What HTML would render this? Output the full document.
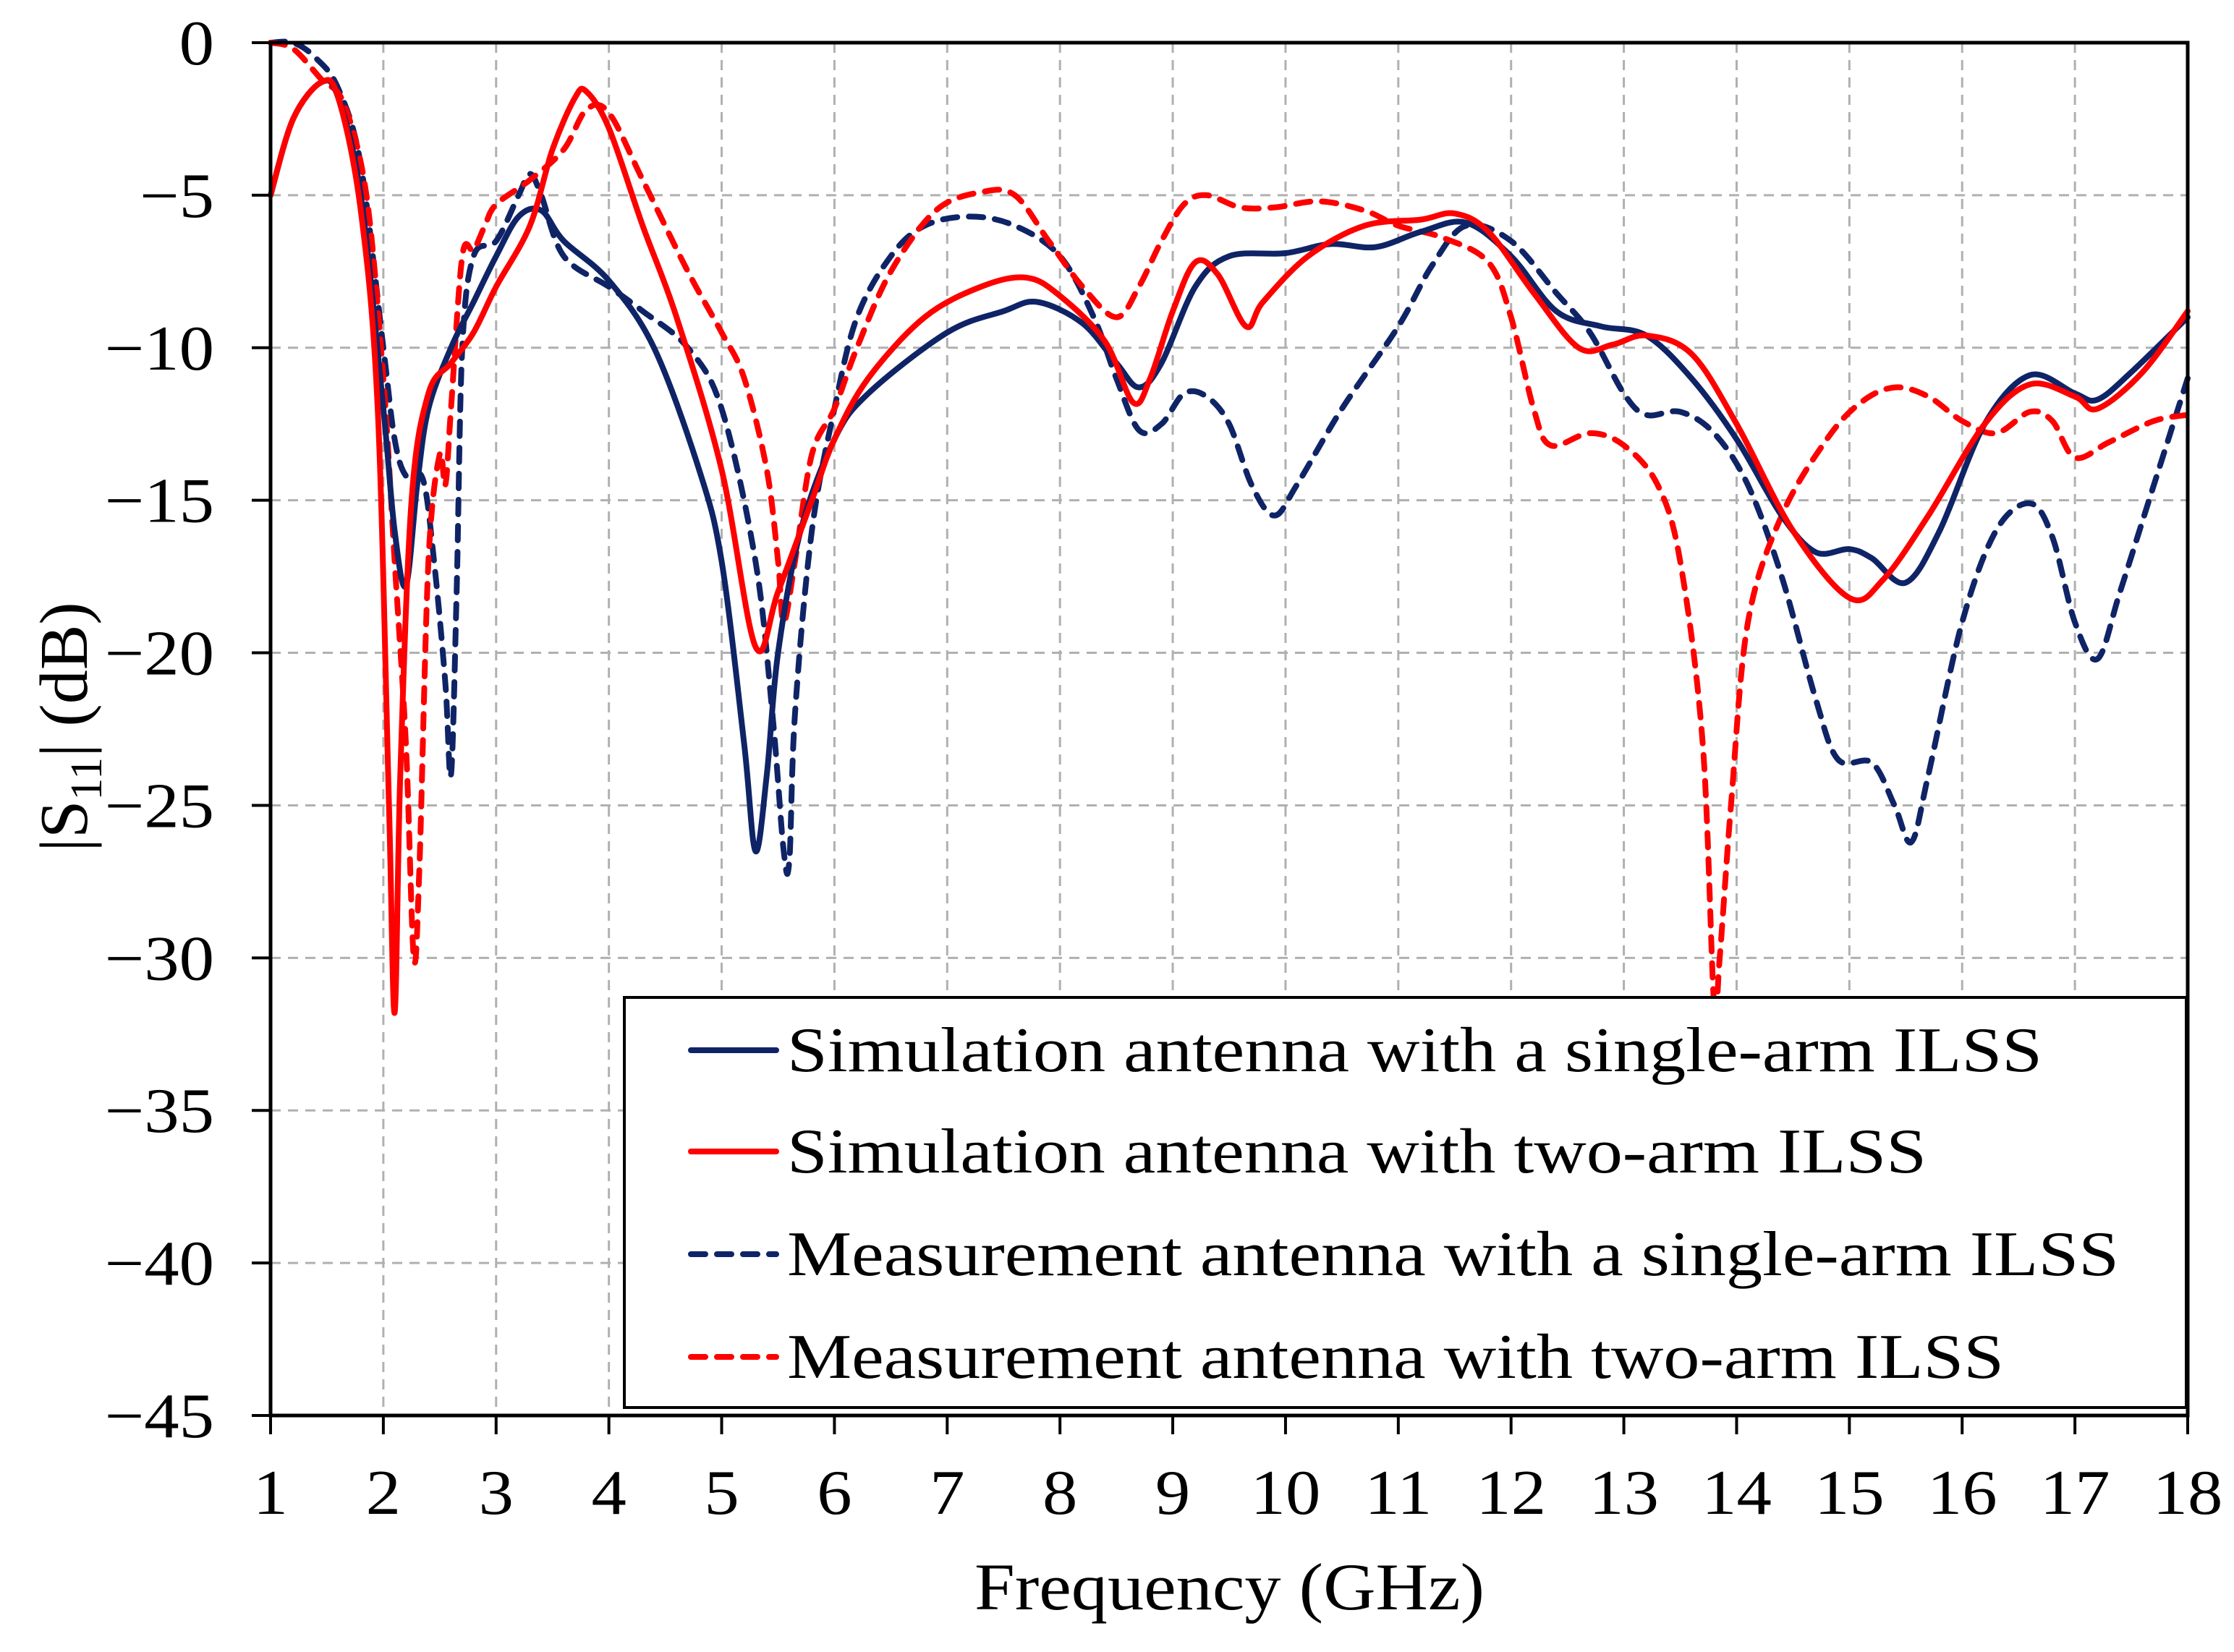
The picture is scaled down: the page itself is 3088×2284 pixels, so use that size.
<!DOCTYPE html>
<html><head><meta charset="utf-8"><style>
html,body{margin:0;padding:0;background:#fff;}
svg{display:block;font-family:"Liberation Serif",serif;}
</style></head><body>
<svg id="chart" width="3088" height="2284" viewBox="0 0 3088 2284" xmlns="http://www.w3.org/2000/svg">
<g id="grid"></g>
<g id="series"></g>
<g id="axes"></g>
<g id="legend"></g>
</svg>
<script>
const xTicks = [1,2,3,4,5,6,7,8,9,10,11,12,13,14,15,16,17,18];
const yTicks = [0,-5,-10,-15,-20,-25,-30,-35,-40,-45];
const seriesNames = ["Simulation antenna with a single-arm ILSS","Simulation antenna with two-arm ILSS","Measurement antenna with a single-arm ILSS","Measurement antenna with two-arm ILSS"];
const simSingleF = [1,1.2,1.45,1.6,1.8,2.0,2.1,2.2,2.3,2.4,2.6,2.8,3.0,3.2,3.4,3.6,4.0,4.4,4.8,5.0,5.2,5.3,5.4,5.5,5.7,6.0,6.3,7.0,7.5,7.8,8.2,8.5,8.7,8.9,9.2,9.5,10,10.4,10.8,11.2,11.6,12,12.4,12.8,13.2,13.6,14,14.4,14.7,15.0,15.2,15.5,15.8,16.2,16.6,17.0,17.2,17.5,18];
const simSingleV = [-5,-2.5,-1.3,-1.8,-5,-12,-16,-17.8,-14.5,-12,-10,-8.5,-7,-5.7,-5.5,-6.5,-7.8,-10,-14,-17,-23,-26.5,-24,-20,-16,-13,-11.5,-9.5,-8.8,-8.5,-9.2,-10.5,-11.3,-10.5,-8,-7,-6.9,-6.6,-6.7,-6.2,-5.9,-7,-8.8,-9.3,-9.6,-11,-13,-15.5,-16.7,-16.6,-16.9,-17.7,-16,-12.5,-10.9,-11.5,-11.7,-10.8,-9];
const simTwoF = [1,1.2,1.45,1.6,1.8,1.95,2.05,2.1,2.15,2.25,2.4,2.6,2.8,3.0,3.3,3.5,3.7,3.8,4.0,4.3,4.6,5.0,5.3,5.5,5.8,6.0,6.3,6.8,7.3,7.7,8.0,8.4,8.65,8.8,9.0,9.2,9.4,9.65,9.8,10.2,10.7,11.2,11.5,11.8,12.2,12.6,12.9,13.2,13.6,14,14.5,15,15.3,15.7,16.2,16.6,17,17.2,17.6,18];
const simTwoV = [-5,-2.5,-1.3,-1.8,-5.5,-12,-25,-31.8,-24,-15,-11.5,-10.5,-9.5,-8,-6,-3.5,-1.8,-1.6,-2.8,-6,-9,-14,-19.8,-18,-15,-13,-11,-9,-8,-7.7,-8.3,-9.8,-11.8,-11,-8.8,-7.2,-7.6,-9.3,-8.5,-7,-6,-5.8,-5.6,-6.2,-8.2,-10,-9.9,-9.6,-10.2,-12.5,-16,-18.2,-17.6,-15.5,-12.5,-11.2,-11.6,-12,-10.8,-8.8];
const measSingleF = [1,1.2,1.4,1.6,1.8,2.0,2.1,2.2,2.35,2.45,2.55,2.6,2.65,2.7,2.8,3.0,3.2,3.3,3.4,3.6,4.0,4.3,4.7,5.0,5.3,5.45,5.55,5.6,5.65,5.8,6.0,6.2,6.5,6.8,7.2,7.6,8.0,8.3,8.5,8.7,8.9,9.1,9.3,9.5,9.7,9.9,10.1,10.5,11,11.3,11.6,12,12.4,12.7,13,13.2,13.5,13.8,14.1,14.4,14.7,14.9,15.2,15.4,15.55,15.7,16.0,16.3,16.6,16.8,17.0,17.2,17.4,17.7,18];
const measSingleV = [0,0,-0.5,-1.5,-4,-10,-13,-14.2,-14.3,-17,-21,-24,-18,-10,-7,-6.5,-5,-4.3,-5,-7,-8,-8.8,-10,-12,-17,-22,-26.5,-26.8,-22,-16,-12,-9,-7,-6,-5.7,-6,-7,-9,-11,-12.7,-12.5,-11.5,-11.6,-12.5,-14.5,-15.5,-14.5,-12,-9.3,-7.3,-6,-6.5,-8.2,-9.5,-11.5,-12.2,-12.1,-12.8,-14.5,-17.5,-21.5,-23.5,-23.6,-25,-26.2,-24,-19,-16,-15.1,-16.2,-19,-20.2,-18,-14.5,-11];
const measTwoF = [1,1.2,1.45,1.65,1.85,2.0,2.1,2.2,2.27,2.32,2.4,2.5,2.55,2.6,2.7,2.8,2.9,3.0,3.3,3.6,3.8,4.0,4.3,4.7,5.0,5.2,5.4,5.5,5.55,5.65,5.8,6.0,6.2,6.5,6.9,7.3,7.6,7.9,8.2,8.5,8.7,8.9,9.1,9.3,9.6,9.9,10.3,10.7,11.0,11.4,11.8,12.0,12.2,12.35,12.7,13.0,13.3,13.5,13.7,13.8,13.85,13.95,14.1,14.4,14.8,15.1,15.4,15.7,16.0,16.3,16.6,16.8,17.0,17.3,17.7,18];
const measTwoV = [0,-0.2,-1.2,-2,-5,-11,-17,-23,-30,-27,-17,-13.5,-14.5,-12,-7,-6.8,-6,-5.3,-4.5,-3.5,-2.2,-2.3,-4.5,-7.5,-9.5,-11,-14,-17,-19,-17,-13.5,-12,-10,-7.5,-5.5,-4.9,-5,-6.5,-8,-9,-8,-6.5,-5.3,-5,-5.4,-5.4,-5.2,-5.5,-6,-6.4,-7.2,-9,-12,-13.2,-12.8,-13.2,-14.5,-17,-23,-31.5,-30,-25,-19,-15.5,-13,-11.8,-11.3,-11.6,-12.4,-12.8,-12.1,-12.4,-13.6,-13.1,-12.4,-12.2];

const NS="http://www.w3.org/2000/svg";
const L=374,R=3024,T=59,B=1957;
function xs(f){return L+(f-1)/(18-1)*(R-L);}
function ys(v){return T+(0-v)/45*(B-T);}
function mk(tag,attrs,parent){const e=document.createElementNS(NS,tag);for(const k in attrs)e.setAttribute(k,attrs[k]);parent.appendChild(e);return e;}
const grid=document.getElementById('grid'),axes=document.getElementById('axes'),ser=document.getElementById('series'),leg=document.getElementById('legend');

xTicks.forEach(t=>{
  const x=xs(t);
  if(t>1&&t<18){const g=mk('line',{x1:x,y1:T,x2:x,y2:B,stroke:'#b0b0b0','stroke-width':3,'stroke-dasharray':'14,10'},grid);
  
  }
  const tk=mk('line',{x1:x,y1:B,x2:x,y2:B+26,stroke:'#000','stroke-width':4},axes);
  
  
  const lb=mk('text',{x:0,y:0,'text-anchor':'middle','font-size':88,transform:'translate('+x+',2093) scale(1.1,1)'},axes);
  
  
  lb.textContent=t;
});
yTicks.forEach(t=>{
  const y=ys(t);
  if(t<0&&t>-45){const g=mk('line',{x1:L,y1:y,x2:R,y2:y,stroke:'#b0b0b0','stroke-width':3,'stroke-dasharray':'14,10'},grid);
  
  }
  const tk=mk('line',{x1:L-26,y1:y,x2:L,y2:y,stroke:'#000','stroke-width':4},axes);
  
  
  const lb=mk('text',{x:0,y:0,'text-anchor':'end','font-size':88,transform:'translate(296,'+(y+30)+') scale(1.1,1)'},axes);
  
  
  lb.textContent=t===0?'0':'\u2212'+Math.abs(t);
});
const frame=mk('rect',{x:L,y:T,width:R-L,height:B-T,fill:'none',stroke:'#000','stroke-width':5},axes);


const xt=mk('text',{x:1347,y:2225,'font-size':92,textLength:705,lengthAdjust:'spacingAndGlyphs'},axes);


xt.textContent='Frequency (GHz)';
const yt=mk('text',{x:0,y:0,'text-anchor':'middle','font-size':94,transform:'translate(120,1005) rotate(-90)'},axes);


yt.innerHTML='|S<tspan font-size="62" dy="20">11</tspan><tspan dy="-20">| (dB)</tspan>';

function path(F,V){
  const p=F.map((f,i)=>[xs(f),ys(V[i])]);
  let d='M'+p[0][0].toFixed(1)+','+p[0][1].toFixed(1);
  for(let i=0;i<p.length-1;i++){
    const p0=p[Math.max(0,i-1)],p1=p[i],p2=p[i+1],p3=p[Math.min(p.length-1,i+2)];
    const c1=[p1[0]+(p2[0]-p0[0])/6,p1[1]+(p2[1]-p0[1])/6];
    const c2=[p2[0]-(p3[0]-p1[0])/6,p2[1]-(p3[1]-p1[1])/6];
    d+='C'+c1[0].toFixed(1)+','+c1[1].toFixed(1)+' '+c2[0].toFixed(1)+','+c2[1].toFixed(1)+' '+p2[0].toFixed(1)+','+p2[1].toFixed(1);
  }
  return d;
}
const NAVY='#0f2466',RED='#ff0000';
const defs=[[measSingleF,measSingleV,NAVY,true,'meas-single-arm-line'],[measTwoF,measTwoV,RED,true,'meas-two-arm-line'],[simSingleF,simSingleV,NAVY,false,'sim-single-arm-line'],[simTwoF,simTwoV,RED,false,'sim-two-arm-line']];
defs.forEach(s=>{
  const a={d:path(s[0],s[1]),fill:'none',stroke:s[2],'stroke-width':8,'stroke-linejoin':'round','stroke-linecap':'round'};
  if(s[3])a['stroke-dasharray']='20,16';
  const e=mk('path',a,ser);
  
  
});
const box=mk('rect',{x:863,y:1379,width:2159,height:567,fill:'#fff',stroke:'#000','stroke-width':4},leg);


const lc=[NAVY,RED,NAVY,RED],ld=[false,false,true,true],ly=[1452,1592,1734,1876],lw=[1735,1575,1841,1682];
seriesNames.forEach((n,i)=>{
  const a={x1:955,y1:ly[i],x2:1073,y2:ly[i],stroke:lc[i],'stroke-width':8,'stroke-linecap':'round'};
  if(ld[i])a['stroke-dasharray']='20,16';
  const l=mk('line',a,leg);
  
  
  const t=mk('text',{x:1088,y:ly[i]+29,'font-size':88,textLength:lw[i],lengthAdjust:'spacingAndGlyphs'},leg);
  
  
  t.textContent=n;
});
</script>
</body></html>
